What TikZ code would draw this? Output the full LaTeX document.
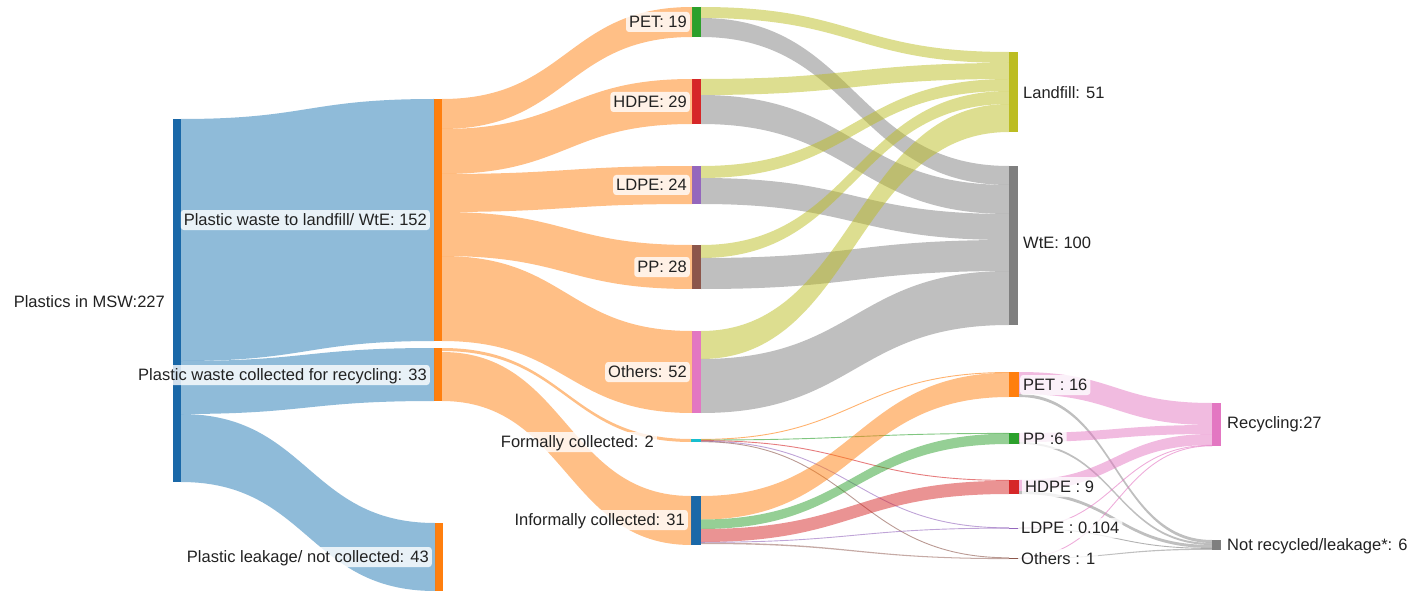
\documentclass[tikz,border=0pt]{standalone}
\usepackage{fontspec}
\setmainfont{Liberation Sans}
\usetikzlibrary{calc}
\definecolor{cblue}{HTML}{1F77B4}
\definecolor{cblued}{HTML}{1A68A8}
\definecolor{corange}{HTML}{FF7F0E}
\definecolor{cgreen}{HTML}{2CA02C}
\definecolor{cred}{HTML}{D62728}
\definecolor{cpurple}{HTML}{9467BD}
\definecolor{cbrown}{HTML}{8C564B}
\definecolor{cpink}{HTML}{E377C2}
\definecolor{cgray}{HTML}{7F7F7F}
\definecolor{colive}{HTML}{BCBD22}
\definecolor{ccyan}{HTML}{17BECF}
\definecolor{ctext}{HTML}{222222}
% ribbon: colour, source node, src top y, src bottom y, target node, tgt top y, tgt bottom y
\newcommand\ribbon[7]{%
  \path (#2.east |- 0,#3) coordinate (fA) (#2.east |- 0,#4) coordinate (fB)
        (#5.west |- 0,#6) coordinate (fC) (#5.west |- 0,#7) coordinate (fD)
        ($(fA)!.5!(fC)$) coordinate (fM);
  \fill[ribbonfill, #1] (fA) .. controls (fM |- fA) and (fM |- fC) .. (fC) -- (fD)
        .. controls (fM |- fD) and (fM |- fB) .. (fB) -- cycle;}
% thin link: colour, source node, src y, target node, tgt y
\newcommand\thinflow[5]{%
  \path (#2.east |- 0,#3) coordinate (fA) (#4.west |- 0,#5) coordinate (fC)
        ($(fA)!.5!(fC)$) coordinate (fM);
  \draw[thinline, #1] (fA) .. controls (fM |- fA) and (fM |- fC) .. (fC);}
\tikzset{
  ribbonfill/.style={fill opacity=.5},
  thinline/.style={line width=.9pt, draw opacity=.6},
  bar/.style={inner sep=0pt, outer sep=0pt, anchor=north west, draw=none},
  lbl/.style={fill=white, fill opacity=.8, text opacity=1, text=ctext,
    rounded corners=3pt, inner xsep=3pt, inner ysep=3.5pt,
    text height=12pt, text depth=1pt, font=\fontsize{16.5}{19}\selectfont},
}
\begin{document}
\begin{tikzpicture}[x=1pt,y=-1pt]
\useasboundingbox (0,0) rectangle (1409,591);
% ---------- bars ----------
\node[bar, minimum width=8pt, minimum height=363pt, fill=cblued] (msw) at (173,119) {};
\node[bar, minimum width=8pt, minimum height=242pt, fill=corange] (lwte) at (434,99) {};
\node[bar, minimum width=8pt, minimum height=53pt, fill=corange] (rcol) at (434,348) {};
\node[bar, minimum width=8pt, minimum height=68pt, fill=corange] (leak) at (435,523) {};
\node[bar, minimum width=9pt, minimum height=30pt, fill=cgreen] (pet1) at (692,7) {};
\node[bar, minimum width=9pt, minimum height=45pt, fill=cred] (hdpe1) at (692,79) {};
\node[bar, minimum width=9pt, minimum height=38pt, fill=cpurple] (ldpe1) at (692,166) {};
\node[bar, minimum width=9pt, minimum height=44pt, fill=cbrown] (pp1) at (692,245) {};
\node[bar, minimum width=9pt, minimum height=82pt, fill=cpink] (oth1) at (692,331) {};
\node[bar, minimum width=10pt, minimum height=3pt, fill=ccyan] (fcol) at (691,439) {};
\node[bar, minimum width=10pt, minimum height=49pt, fill=cblued] (icol) at (691,496) {};
\node[bar, minimum width=9pt, minimum height=80pt, fill=colive] (landf) at (1009,52) {};
\node[bar, minimum width=9pt, minimum height=159pt, fill=cgray] (wte) at (1009,166) {};
\node[bar, minimum width=10pt, minimum height=25pt, fill=corange] (pet2) at (1009,372) {};
\node[bar, minimum width=10pt, minimum height=11pt, fill=cgreen] (pp2) at (1009,433) {};
\node[bar, minimum width=10pt, minimum height=14pt, fill=cred] (hdpe2) at (1009,480) {};
\node[bar, minimum width=10pt, minimum height=0.4pt, fill=cpurple] (ldpe2) at (1009,527.8) {};
\node[bar, minimum width=10pt, minimum height=1.6pt, fill=cbrown] (oth2) at (1009,557.5) {};
\node[bar, minimum width=9pt, minimum height=43pt, fill=cpink] (recy) at (1212,403) {};
\node[bar, minimum width=9pt, minimum height=10pt, fill=cgray] (nrec) at (1212,540) {};
% ---------- level 1 ----------
\ribbon{cblue}{msw}{119}{361}{lwte}{99}{341}
\ribbon{cblue}{msw}{361}{414}{rcol}{348}{401}
\ribbon{cblue}{msw}{414}{482}{leak}{523}{591}
% ---------- level 2 ----------
\ribbon{corange}{lwte}{99}{129}{pet1}{7}{37}
\ribbon{corange}{lwte}{129}{174}{hdpe1}{79}{124}
\ribbon{corange}{lwte}{174}{212}{ldpe1}{166}{204}
\ribbon{corange}{lwte}{212}{256}{pp1}{245}{289}
\ribbon{corange}{lwte}{256}{341}{oth1}{331}{413}
\ribbon{corange}{rcol}{348}{351}{fcol}{439}{442}
\ribbon{corange}{rcol}{352}{401}{icol}{496}{545}
% ---------- level 3: landfill / WtE ----------
\ribbon{colive}{pet1}{7}{18}{landf}{52}{63}
\ribbon{cgray}{pet1}{18}{37}{wte}{166}{185}
\ribbon{colive}{hdpe1}{79}{95}{landf}{63}{79}
\ribbon{cgray}{hdpe1}{95}{124}{wte}{185}{214}
\ribbon{colive}{ldpe1}{166}{178}{landf}{79}{91}
\ribbon{cgray}{ldpe1}{178}{204}{wte}{214}{240}
\ribbon{colive}{pp1}{245}{258}{landf}{91}{104}
\ribbon{cgray}{pp1}{258}{289}{wte}{240}{271}
\ribbon{colive}{oth1}{331}{359}{landf}{104}{132}
\ribbon{cgray}{oth1}{359}{413}{wte}{271}{325}
% ---------- level 3: collected streams ----------
\thinflow{corange}{fcol}{439.4}{pet2}{372.5}
\thinflow{cgreen}{fcol}{440}{pp2}{433.4}
\thinflow{cred}{fcol}{440.6}{hdpe2}{480.4}
\thinflow{cpurple}{fcol}{441.2}{ldpe2}{527.9}
\thinflow{cbrown}{fcol}{441.7}{oth2}{557.8}
\ribbon{corange}{icol}{496}{519.5}{pet2}{372.8}{397}
\ribbon{cgreen}{icol}{519.5}{529}{pp2}{433.7}{444}
\ribbon{cred}{icol}{529}{542}{hdpe2}{480.8}{494}
\thinflow{cpurple}{icol}{542.3}{ldpe2}{528.1}
\ribbon{cbrown}{icol}{542.6}{544}{oth2}{558.1}{559.1}
% ---------- level 4 ----------
\ribbon{cpink}{pet2}{372}{394}{recy}{403}{425}
\ribbon{cgray}{pet2}{394}{397}{nrec}{540}{543}
\ribbon{cpink}{pp2}{433}{442}{recy}{425}{434}
\ribbon{cgray}{pp2}{442}{444}{nrec}{543}{545}
\ribbon{cpink}{hdpe2}{480}{491}{recy}{434}{445}
\ribbon{cgray}{hdpe2}{491}{494}{nrec}{545}{548}
\thinflow{cpink}{ldpe2}{527.9}{recy}{445.3}
\thinflow{cgray}{ldpe2}{528.1}{nrec}{548.4}
\thinflow{cpink}{oth2}{558}{recy}{445.8}
\ribbon{cgray}{oth2}{558.3}{559.1}{nrec}{548.6}{549.8}
% ---------- labels ----------
\node[lbl, anchor=east] (tmsw) at (168,302) {Plastics in MSW:227};
\node[lbl, anchor=east] (tlwte) at (430,220) {Plastic waste to landfill/ WtE: 152};
\node[lbl, anchor=east] (trcol) at (430,375) {Plastic waste collected for recycling: 33};
\node[lbl, anchor=east] (tleak) at (432,557) {Plastic leakage/ not collected: 43};
\node[lbl, anchor=east] (tpet1) at (690,22) {PET: 19};
\node[lbl, anchor=east] (thdpe1) at (690,102) {HDPE: 29};
\node[lbl, anchor=east] (tldpe1) at (690,185) {LDPE: 24};
\node[lbl, anchor=east] (tpp1) at (690,267) {PP: 28};
\node[lbl, anchor=east] (toth1) at (690,372) {Others: 52};
\node[lbl, anchor=east] (tfcol) at (657,442) {Formally collected: 2};
\node[lbl, anchor=east] (ticol) at (688,520) {Informally collected: 31};
\node[lbl, anchor=west] (tlandf) at (1020,93) {Landfill: 51};
\node[lbl, anchor=west] (twte) at (1020,243) {WtE: 100};
\node[lbl, anchor=west] (tpet2) at (1020,385) {PET : 16};
\node[lbl, anchor=west] (tpp2) at (1020,439) {PP :6};
\node[lbl, anchor=west] (thdpe2) at (1022,487) {HDPE : 9};
\node[lbl, anchor=west] (tldpe2) at (1018,528) {LDPE : 0.104};
\node[lbl, anchor=west] (toth2) at (1018,559) {Others : 1};
\node[lbl, anchor=west] (trecy) at (1224,423) {Recycling:27};
\node[lbl, anchor=west] (tnrec) at (1224,545) {Not recycled/leakage*: 6};
\end{tikzpicture}
\end{document}
